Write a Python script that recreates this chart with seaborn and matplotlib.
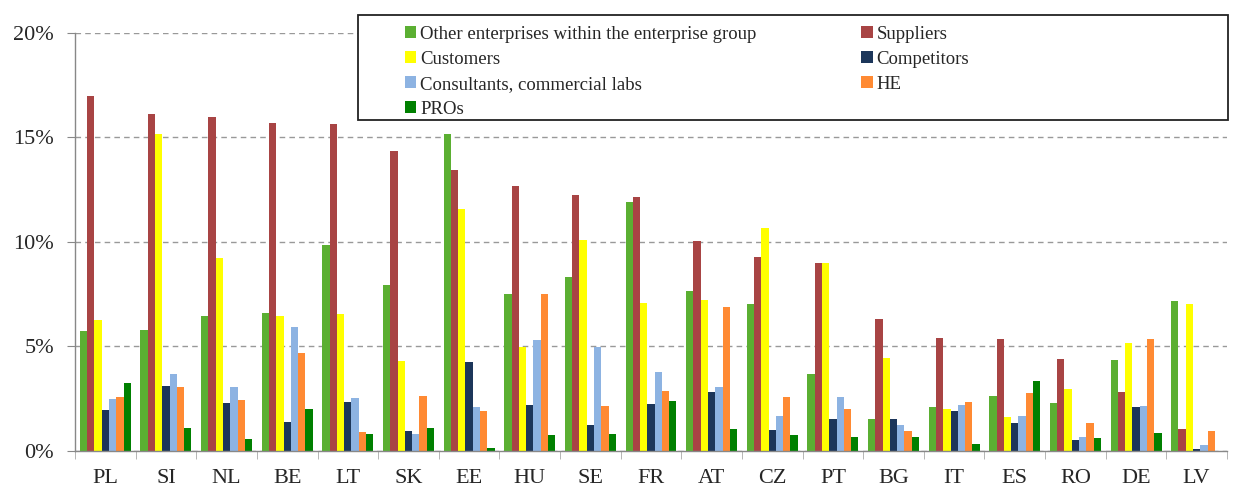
import numpy as np
import pandas as pd
import matplotlib
matplotlib.use("Agg")
import matplotlib.pyplot as plt
import seaborn as sns
from matplotlib.patches import Rectangle
from matplotlib.ticker import FuncFormatter, FixedLocator

# data (% of enterprises)
countries = ["PL", "SI", "NL", "BE", "LT", "SK", "EE", "HU", "SE", "FR",
             "AT", "CZ", "PT", "BG", "IT", "ES", "RO", "DE", "LV"]
series = ["Other enterprises within the enterprise group", "Suppliers",
          "Customers", "Competitors", "Consultants, commercial labs", "HE", "PROs"]
group_vals = [5.72, 5.77, 6.45, 6.58, 9.86, 7.94, 15.16, 7.51, 8.32, 11.92,
              7.67, 7.03, 3.68, 1.53, 2.09, 2.65, 2.29, 4.33, 7.19]
supplier_vals = [16.97, 16.11, 15.98, 15.71, 15.63, 14.37, 13.42, 12.65, 12.25, 12.13,
                 10.02, 9.27, 9.00, 6.29, 5.39, 5.34, 4.38, 2.82, 1.04]
customer_vals = [6.28, 15.16, 9.23, 6.45, 6.55, 4.29, 11.55, 4.99, 10.09, 7.06,
                 7.22, 10.65, 8.97, 4.43, 1.99, 1.61, 2.96, 5.16, 7.01]
competitor_vals = [1.94, 3.12, 2.31, 1.39, 2.34, 0.96, 4.25, 2.18, 1.26, 2.26,
                   2.82, 1.00, 1.53, 1.53, 1.90, 1.35, 0.54, 2.09, 0.10]
consultant_vals = [2.47, 3.68, 3.04, 5.94, 2.53, 0.83, 2.09, 5.29, 4.99, 3.78,
                   3.08, 1.66, 2.57, 1.26, 2.22, 1.69, 0.67, 2.17, 0.27]
he_vals = [2.60, 3.04, 2.44, 4.69, 0.91, 2.65, 1.91, 7.51, 2.17, 2.87,
           6.90, 2.57, 2.01, 0.96, 2.34, 2.77, 1.35, 5.37, 0.96]
pro_vals = [3.27, 1.10, 0.57, 1.99, 0.83, 1.10, 0.14, 0.78, 0.83, 2.39,
            1.05, 0.75, 0.65, 0.65, 0.32, 3.36, 0.61, 0.86, 0.00]

colors = ["#5BAF32", "#A84444", "#FFFF00", "#1C365A", "#8DB3E2", "#FF8A33", "#008000"]

all_vals = [group_vals, supplier_vals, customer_vals, competitor_vals,
            consultant_vals, he_vals, pro_vals]
rows = []
for s, vals in zip(series, all_vals):
    for c, v in zip(countries, vals):
        rows.append({"country": c, "partner": s, "share": v})
df = pd.DataFrame(rows)

sns.set_style("white")
plt.rcParams["font.family"] = ["Liberation Serif", "DejaVu Serif"]

fig = plt.figure(figsize=(12.4, 4.88), dpi=100)
ax = fig.add_axes([0.0605, 0.0758, 0.929, 0.857])

sns.barplot(data=df, x="country", y="share", hue="partner", order=countries,
            hue_order=series, palette=colors, width=0.84, gap=0, saturation=1,
            edgecolor="none", linewidth=0, ax=ax)

ax.set_ylim(0, 20)
ax.set_xlim(-0.5, len(countries) - 0.5)
ax.set_yticks([0, 5, 10, 15, 20])
ax.yaxis.set_major_formatter(FuncFormatter(lambda v, p: f"{int(v)}%"))
ax.yaxis.grid(True, linestyle=(0, (4, 3)), color="#999999", linewidth=1)
ax.set_axisbelow(True)
ax.set_xlabel("")
ax.set_ylabel("")

for side in ["top", "right"]:
    ax.spines[side].set_visible(False)
for side in ["left", "bottom"]:
    ax.spines[side].set_color("#888888")
    ax.spines[side].set_linewidth(1)

ax.tick_params(axis="y", labelsize=16, length=6, color="#888888", direction="out", left=True, pad=9)
ax.tick_params(axis="x", which="major", labelsize=16, length=0, pad=13)
ax.xaxis.set_minor_locator(FixedLocator(np.arange(-0.5, len(countries), 1)))
ax.tick_params(axis="x", which="minor", length=6, color="#aaaaaa", bottom=True)

# legend box drawn as a figure patch, legend entries placed inside it
box = Rectangle((0.2887, 0.754), 0.7016, 0.215, transform=fig.transFigure,
                facecolor="white", edgecolor="#222222", linewidth=1.3, zorder=1)
fig.patches.append(box)

handles, labels = ax.get_legend_handles_labels()
ax.get_legend().remove()
order = [0, 2, 4, 6, 1, 3, 5]
leg = fig.legend([handles[i] for i in order], [labels[i] for i in order],
                 loc="upper left", bbox_to_anchor=(0.3266, 0.947),
                 ncol=2, fontsize=13.5, frameon=False,
                 handlelength=0.6, handleheight=0.6, handletextpad=0.2,
                 labelspacing=0.43, borderaxespad=0, borderpad=0, columnspacing=5.6)

fig.savefig("out.png", dpi=100)
